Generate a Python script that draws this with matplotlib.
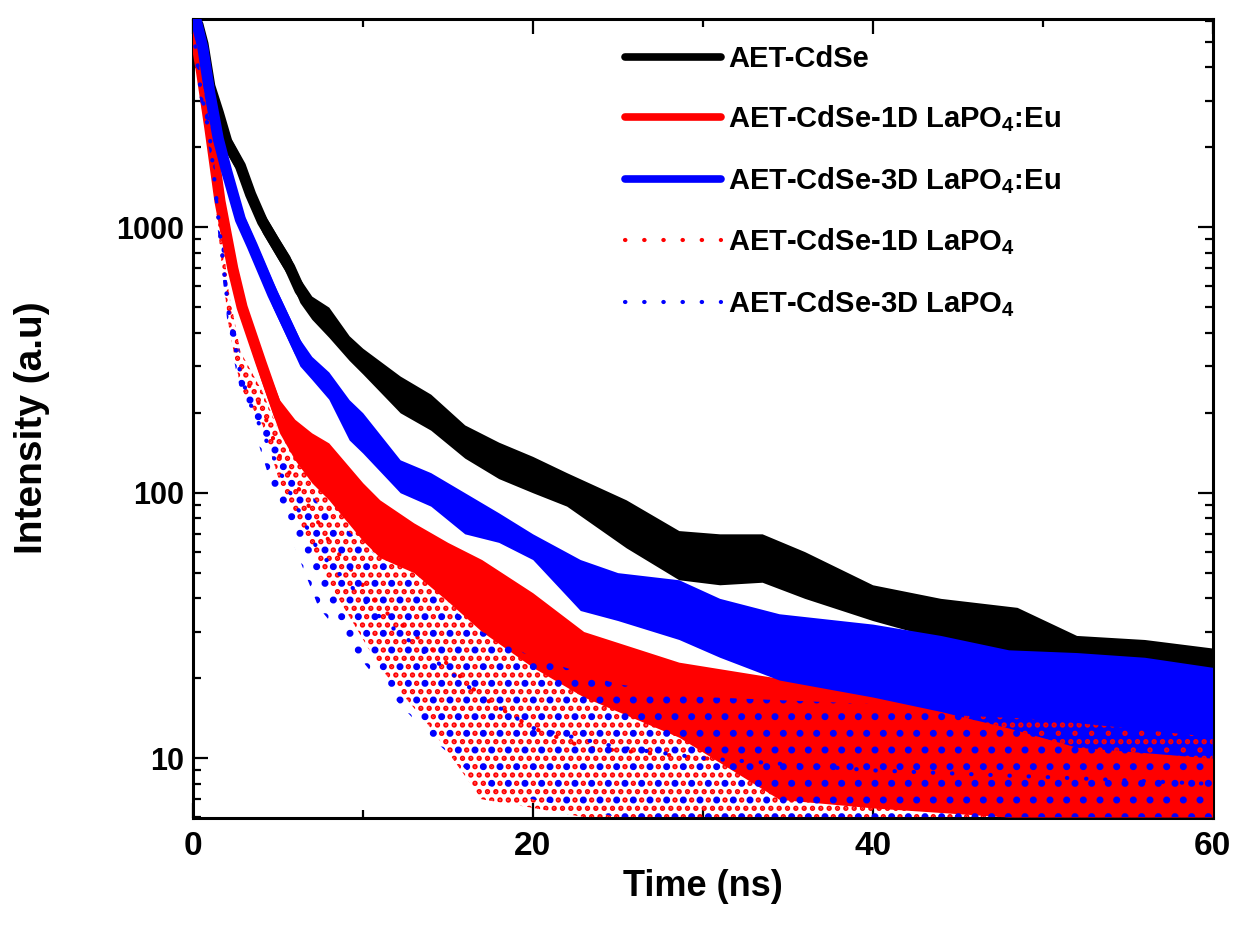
import matplotlib
matplotlib.use("Agg")
import matplotlib.pyplot as plt
from matplotlib import font_manager as fm

# ---------------- data ----------------
# AET-CdSe (black)
t_blk = [0.3, 0.6, 1.0, 1.5, 2.0, 2.8, 3.4, 4.1, 5.0, 5.7, 6.3, 7.0, 8.0, 9.2, 10.0, 12.2, 14.0,
         16.0, 18.0, 20.0, 22.0, 25.5, 28.6, 31.0, 33.5, 36.0, 40.0, 44.0, 48.5, 52.0, 56.0, 60.0]
m_blk = [5800, 4900, 3400, 2700, 2100, 1700, 1330, 1050, 840, 706, 580, 500, 440, 350, 310, 235, 200,
         158, 133, 117, 103, 76, 60, 57, 56, 50, 38, 34, 30, 25, 24, 22]
h_blk = [6100, 5300, 3700, 3000, 2300, 1850, 1450, 1150, 920, 780, 640, 550, 500, 390, 350, 275, 235,
         180, 155, 137, 119, 94, 72, 70, 70, 60, 45, 40, 37, 29, 28, 26]
l_blk = [5500, 4500, 3100, 2450, 1900, 1550, 1200, 950, 760, 640, 520, 450, 385, 315, 280, 200, 172,
         135, 113, 100, 89, 62, 47, 45, 46, 40, 33, 28, 23, 21.6, 20.5, 19]

# AET-CdSe-1D LaPO4:Eu (red)
t_red = [0.15, 0.5, 1.0, 1.6, 2.35, 2.9, 4.0, 5.1, 6.0, 7.0, 8.0, 10.0, 11.0, 13.0, 15.0, 17.0,
         20.0, 23.0, 28.6, 34.5, 40.0, 48.0, 54.0, 60.0]
m_red = [5300, 3900, 2370, 1250, 700, 500, 310, 195, 160, 135, 120, 85, 72, 62, 50, 43,
         30, 23, 17, 12, 11, 9, 8.5, 8.5]
h_red = [5500, 4380, 2670, 1400, 780, 560, 340, 224, 189, 168, 154, 109, 94, 77, 65, 56,
         42, 30, 23, 20, 18, 14, 13, 12]
l_red = [5000, 3400, 2110, 1100, 620, 440, 267, 168, 133, 109, 94, 66, 57, 50, 39, 30,
         22, 17, 12, 7, 6.5, 6, 6, 6]

# AET-CdSe-3D LaPO4:Eu (blue)
t_blu = [0.2, 0.6, 1.0, 1.5, 2.0, 2.8, 3.5, 4.7, 6.3, 7.0, 8.0, 9.2, 10.0, 12.2, 14.0, 16.0, 18.0,
         20.0, 22.8, 25.0, 28.6, 31.0, 34.5, 40.0, 44.0, 48.0, 52.0, 56.0, 60.0]
m_blu = [6000, 4700, 3200, 2150, 1620, 1070, 850, 560, 340, 295, 250, 190, 168, 115, 103, 85, 74,
         62, 46, 41, 37, 33, 27, 24, 21, 19, 17, 16.5, 16]
h_blu = [6200, 5300, 3550, 2450, 1840, 1190, 940, 625, 378, 326, 285, 224, 200, 133, 119, 100, 84,
         70, 56, 50, 47, 40, 35, 32, 29, 25.6, 25, 24, 22]
l_blu = [5700, 4100, 2850, 1900, 1420, 965, 770, 500, 300, 267, 225, 158, 141, 100, 89, 70, 65,
         56, 36, 33, 28, 24, 19.7, 17, 15, 13, 11, 10.5, 10]

# AET-CdSe-1D LaPO4 (red dotted)
t_rdo = [0.15, 0.4, 1.0, 1.3, 1.7, 2.1, 2.8, 4.1, 5.1, 8.0, 11.0, 14.0, 17.0, 20.0, 23.0,
         30.0, 40.0, 50.0, 60.0]
m_rdo = [4800, 3560, 2200, 1490, 840, 500, 290, 205, 138, 66, 37, 26, 17, 13, 11,
         10, 9, 8.5, 8]
h_rdo = [5100, 4000, 2500, 1700, 960, 580, 340, 240, 168, 94, 61, 45, 30, 24, 19,
         17, 15, 14, 12]
l_rdo = [4500, 3100, 1900, 1300, 720, 430, 250, 180, 110, 46, 22, 13, 7, 6.5, 6,
         6, 6, 6, 6]

# AET-CdSe-3D LaPO4 (blue dotted)
t_bdo = [0.15, 0.4, 1.0, 1.3, 1.7, 2.1, 2.8, 3.4, 5.0, 7.4, 11.2, 14.0, 17.0, 20.0, 25.0,
         30.0, 40.0, 50.0, 60.0]
m_bdo = [4800, 3500, 2180, 1450, 820, 480, 280, 215, 125, 60, 33, 24, 17, 13, 11,
         10, 9, 8.5, 8]
h_bdo = [5100, 3900, 2500, 1650, 940, 560, 330, 250, 150, 90, 55, 42, 30, 24, 19,
         17, 16, 15, 14]
l_bdo = [4500, 3100, 1900, 1250, 700, 400, 240, 190, 90, 37, 18.6, 12, 8, 7, 6,
         6, 6, 6, 6]

labels = ["AET-CdSe",
          r"AET-CdSe-1D LaPO$_4$:Eu",
          r"AET-CdSe-3D LaPO$_4$:Eu",
          r"AET-CdSe-1D LaPO$_4$",
          r"AET-CdSe-3D LaPO$_4$"]
x_ticks = [0, 20, 40, 60]
y_ticks = [10, 100, 1000]
y_ticklabels = ["10", "100", "1000"]

# ---------------- style ----------------
def has_font(name):
    try:
        fm.findfont(fm.FontProperties(family=name), fallback_to_default=False)
        return True
    except Exception:
        return False

base = "Liberation Sans" if has_font("Liberation Sans") else "DejaVu Sans"
narrow = "Liberation Sans Narrow" if has_font("Liberation Sans Narrow") else base

plt.rcParams["font.family"] = [base, "DejaVu Sans"]
plt.rcParams["font.weight"] = "bold"
plt.rcParams["mathtext.fontset"] = "custom"
plt.rcParams["mathtext.rm"] = base + ":bold"
plt.rcParams["mathtext.bf"] = base + ":bold"
plt.rcParams["mathtext.default"] = "rm"
plt.rcParams["hatch.linewidth"] = 2.6

fig = plt.figure(figsize=(12.36, 9.36), dpi=100)
ax = fig.add_axes([0.156, 0.126, 0.825, 0.854])

RED = "#ff0000"
BLUE = "#0000ff"
LW = 8

# black
ax.fill_between(t_blk, l_blk, h_blk, color="black", lw=0, zorder=2)
ax.plot(t_blk, m_blk, color="black", lw=LW, solid_capstyle="round", zorder=2, label=labels[0])
# red solid
ax.fill_between(t_red, l_red, h_red, color=RED, lw=0, zorder=3)
ax.plot(t_red, m_red, color=RED, lw=LW, solid_capstyle="round", zorder=3, label=labels[1])
# blue solid
ax.fill_between(t_blu, l_blu, h_blu, color=BLUE, lw=0, zorder=4)
ax.plot(t_blu, m_blu, color=BLUE, lw=LW, solid_capstyle="round", zorder=4, label=labels[2])
# red dotted
ax.fill_between(t_rdo, l_rdo, h_rdo, facecolor="none", edgecolor=RED, hatch="..", lw=0, zorder=5)
ax.plot(t_rdo, m_rdo, color=RED, lw=3, linestyle=(0, (0.1, 4.5)), dash_capstyle="round",
        zorder=5, label=labels[3])
# blue dotted
ax.fill_between(t_bdo, l_bdo, h_bdo, facecolor="none", edgecolor=BLUE, hatch=".", lw=0, zorder=6)
ax.plot(t_bdo, m_bdo, color=BLUE, lw=3, linestyle=(0, (0.1, 4.5)), dash_capstyle="round",
        zorder=6, label=labels[4])

ax.set_yscale("log")
ax.set_xlim(0, 60)
ax.set_ylim(5.95, 6100)
ax.set_xticks(x_ticks)
ax.set_xticks([10, 30, 50], minor=True)
ax.set_yticks(y_ticks)
ax.set_yticklabels(y_ticklabels)
ax.tick_params(which="both", direction="in", top=True, right=True, width=1.6)
ax.tick_params(which="major", length=11)
ax.tick_params(which="minor", length=6)
ax.tick_params(axis="y", which="major", labelsize=22, pad=6)
ax.tick_params(axis="x", which="major", labelsize=24, pad=9)
for lab in ax.get_xticklabels():
    lab.set_family([narrow, "DejaVu Sans"])
    lab.set_fontweight("bold")
for lab in ax.get_yticklabels():
    lab.set_fontweight("bold")
for s in ax.spines.values():
    s.set_linewidth(2.2)

ax.set_xlabel("Time (ns)", fontsize=26, fontweight="bold")
ax.set_ylabel("Intensity (a.u)", fontsize=28, fontweight="bold")
ax.xaxis.set_label_coords(0.5, -0.064)
ax.yaxis.set_label_coords(-0.140, 0.488)

leg = ax.legend(loc="upper left", bbox_to_anchor=(0.398, 1.0), frameon=False, fontsize=21,
                handlelength=3.3, handletextpad=0.25, labelspacing=1.05, borderaxespad=0.5)
for txt in leg.get_texts():
    txt.set_fontweight("bold")
for h in leg.legend_handles[:3]:
    h.set_linewidth(5.5)

fig.savefig("out.png", dpi=100)
